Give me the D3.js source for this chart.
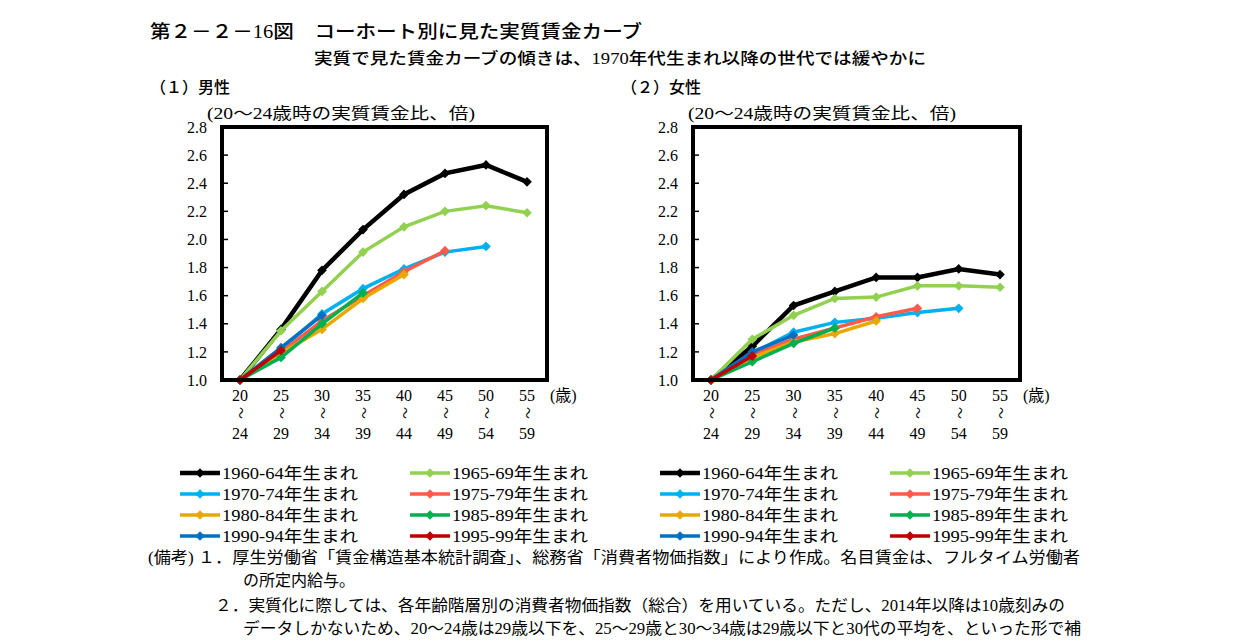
<!DOCTYPE html><html><head><meta charset="utf-8"><script src="https://cdn.jsdelivr.net/npm/d3@7"></script>
<style>body{margin:0;background:#fff}text{font-family:"Liberation Serif","Noto Sans CJK JP",serif;fill:#000}</style></head><body>
<svg id="c" width="1241" height="644"></svg>
<script>
const ageLabels=["20","25","30","35","40","45","50","55"];
const ageLabelsEnd=["24","29","34","39","44","49","54","59"];
const yTicks=[1.0,1.2,1.4,1.6,1.8,2.0,2.2,2.4,2.6,2.8];
const cohorts=["1960-64年生まれ","1965-69年生まれ","1970-74年生まれ","1975-79年生まれ","1980-84年生まれ","1985-89年生まれ","1990-94年生まれ","1995-99年生まれ"];
const colors=["#000000","#92d050","#00b0f0","#ff5b4b","#e8a800","#00b050","#0070c0","#c00000"];
const male=[
[1.0,1.36,1.78,2.07,2.32,2.47,2.53,2.41],
[1.0,1.35,1.63,1.91,2.09,2.20,2.24,2.19],
[1.0,1.22,1.47,1.65,1.79,1.91,1.95],
[1.0,1.20,1.42,1.60,1.77,1.92],
[1.0,1.19,1.36,1.58,1.75],
[1.0,1.16,1.40,1.62],
[1.0,1.23,1.46],
[1.0,1.21]];
const female=[
[1.0,1.24,1.53,1.63,1.73,1.73,1.79,1.75],
[1.0,1.29,1.46,1.58,1.59,1.67,1.67,1.66],
[1.0,1.19,1.34,1.41,1.44,1.48,1.51],
[1.0,1.18,1.29,1.37,1.45,1.51],
[1.0,1.16,1.27,1.33,1.42],
[1.0,1.13,1.26,1.37],
[1.0,1.20,1.32],
[1.0,1.17]];
const svg=d3.select("#c");
const T=(x,y,s,o={})=>{const t=svg.append("text").attr("x",x).attr("y",y).text(s).style("font-size",(o.fs||16)+"px");if(o.a)t.attr("text-anchor",o.a);if(o.w)t.style("font-weight",o.w);if(o.L)t.attr("textLength",o.L).attr("lengthAdjust","spacingAndGlyphs");return t;};
T(150,38,"第２－２－16図　コーホート別に見た実質賃金カーブ",{fs:18,w:"500",L:492});
T(620,64,"実質で見た賃金カーブの傾きは、1970年代生まれ以降の世代では緩やかに",{fs:16,a:"middle",w:"500",L:612});
function panel(x0,x1,title,data,unitX){
  T(x0-72,93,title,{fs:16,w:"500"});
  T(unitX,119,"(20～24歳時の実質賃金比、倍)",{fs:16,L:268});
  const y=d3.scaleLinear().domain([1.0,2.8]).range([380,127]);
  const x=d3.scalePoint().domain(ageLabels).range([x0+18,x1-20]);
  const g=svg.append("g");
  const ya=g.append("g").attr("transform",`translate(${x0-20},0)`).call(d3.axisLeft(y).tickValues(yTicks).tickFormat(d3.format(".1f")).tickSize(0));
  ya.select(".domain").remove();ya.selectAll("text").style("font-size","16px").attr("dx","8");
  yTicks.forEach(v=>g.append("line").attr("x1",x0).attr("x2",x0+6).attr("y1",y(v)).attr("y2",y(v)).attr("stroke","#000").attr("stroke-width",1.5));
  ageLabels.forEach((a,i)=>{const xx=x(a);T(xx,401,a,{a:"middle"});T(xx,417,"～",{a:"middle",fs:12}).attr("transform",`rotate(90,${xx},413)`);T(xx,439,ageLabelsEnd[i],{a:"middle"});});
  T(x1+3,401,"(歳)");
  const line=d3.line().x((d,i)=>x(ageLabels[i])).y(d=>y(d));
  data.forEach((s,k)=>{
    g.append("path").datum(s).attr("d",line).attr("fill","none").attr("stroke",colors[k]).attr("stroke-width",k==0?4.5:3.5);
    g.selectAll(null).data(s).enter().append("path").attr("d",d3.symbol(d3.symbolDiamond2,60)).attr("transform",(d,i)=>`translate(${x(ageLabels[i])},${y(d)})`).attr("fill",colors[k]);
  });
  g.append("rect").attr("x",x0).attr("y",127).attr("width",x1-x0).attr("height",253).attr("fill","none").attr("stroke","#000").attr("stroke-width",4);
}
panel(222,547,"（１）男性",male,207);
panel(693,1020,"（２）女性",female,688);
const lx=[180,410,660,890];
for(let half=0;half<2;half++)cohorts.forEach((c,k)=>{
  const col=k%2,row=Math.floor(k/2);const x=lx[half*2+col],yy=473+row*21;
  svg.append("line").attr("x1",x).attr("x2",x+40).attr("y1",yy).attr("y2",yy).attr("stroke",colors[k]).attr("stroke-width",k==0?4.5:3.5);
  svg.append("path").attr("d",d3.symbol(d3.symbolDiamond2,55)).attr("transform",`translate(${x+20},${yy})`).attr("fill",colors[k]);
  T(x+42,yy+6,c,{L:136});
});
T(148,563,"(備考)  １．厚生労働省「賃金構造基本統計調査」、総務省「消費者物価指数」により作成。名目賃金は、フルタイム労働者",{L:932});
T(243,586,"の所定内給与。",{L:112});
T(215,611,"２．実質化に際しては、各年齢階層別の消費者物価指数（総合）を用いている。ただし、2014年以降は10歳刻みの",{L:850});
T(243,634,"データしかないため、20～24歳は29歳以下を、25～29歳と30～34歳は29歳以下と30代の平均を、といった形で補",{L:838});
</script></body></html>
